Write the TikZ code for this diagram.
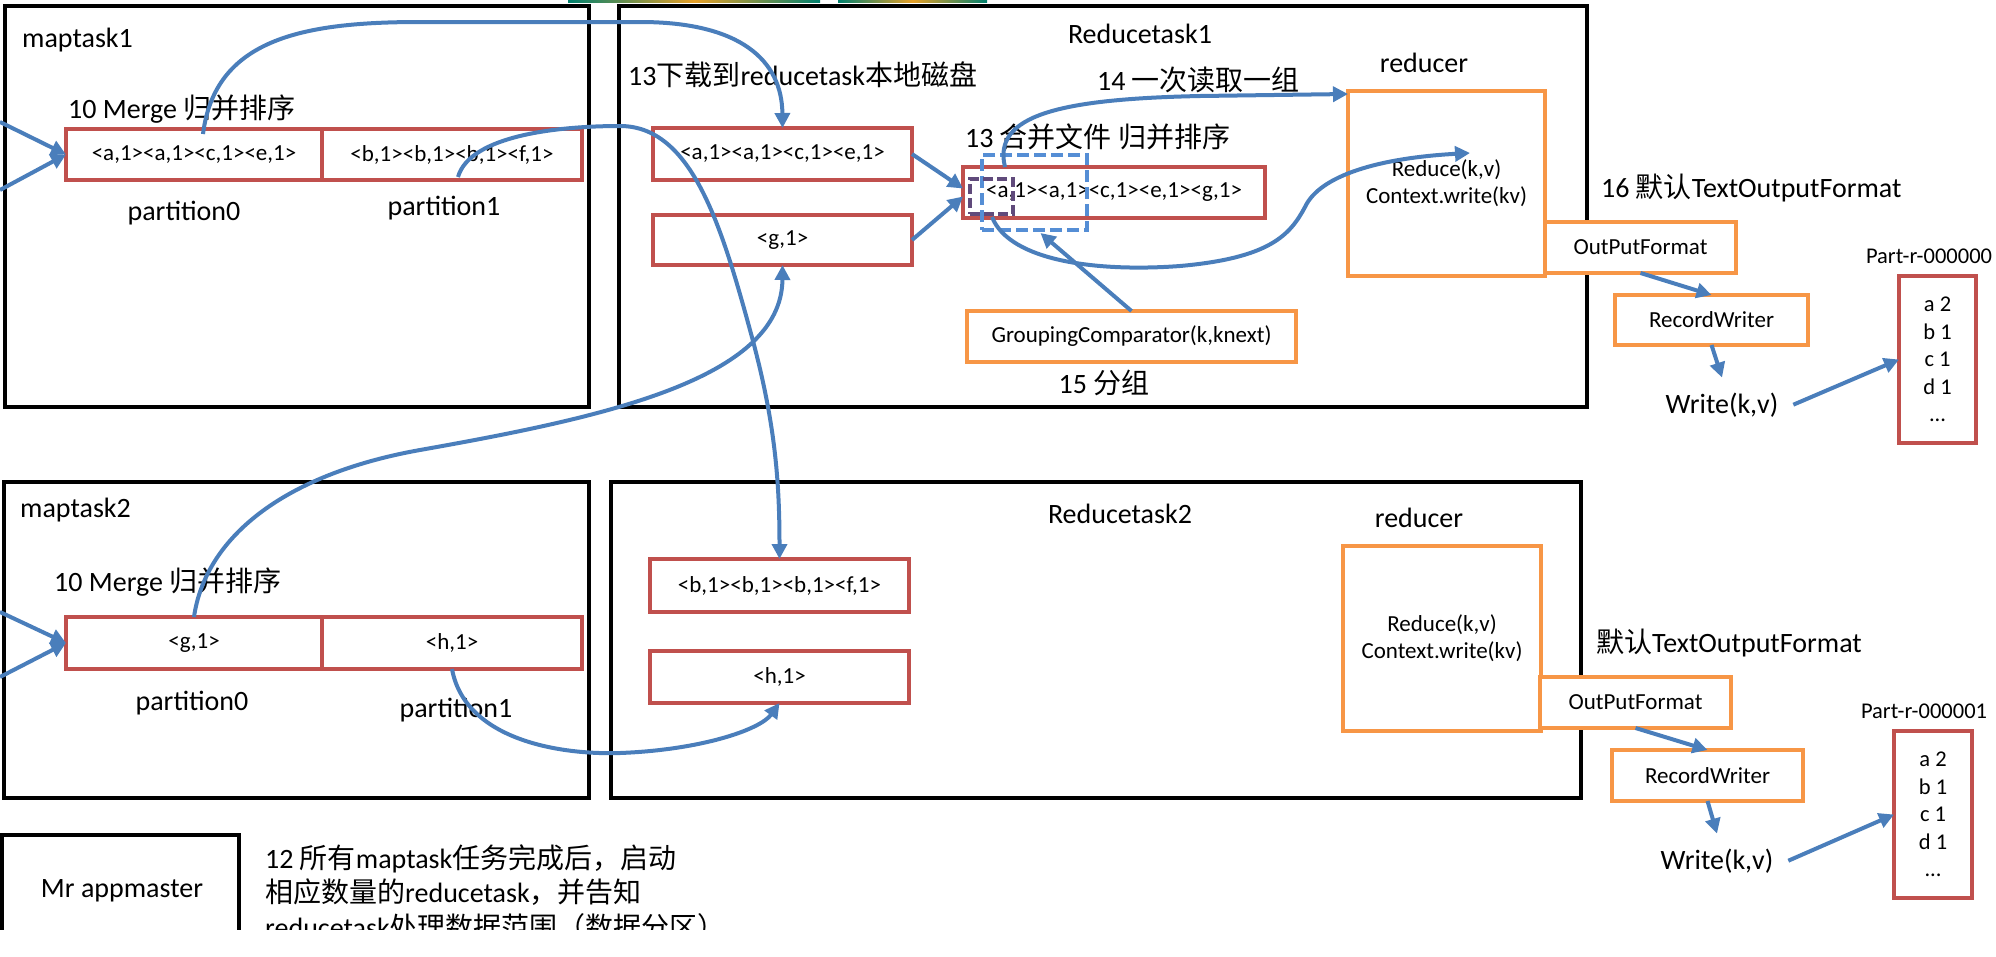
\documentclass[tikz,border=0pt]{standalone}
\usepackage{fontspec}
\setmainfont{Carlito}
\newfontfamily\cjk{Noto Sans CJK SC}
\usetikzlibrary{arrows.meta,calc}
\newcommand{\zh}[1]{{\cjk #1}}
\definecolor{cblue}{RGB}{74,126,187}
\definecolor{cred}{RGB}{192,80,77}
\definecolor{corange}{RGB}{247,150,70}
\definecolor{cdash}{RGB}{85,142,213}
\definecolor{cpurple}{RGB}{96,74,123}
\definecolor{cteal}{RGB}{0,128,110}
\definecolor{cgold}{RGB}{230,160,40}
\begin{document}
\begin{tikzpicture}[x=1pt,y=-1pt,
  taskbox/.style={draw=black, line width=4.5pt, rectangle, inner sep=0pt, outer sep=0pt, anchor=north west},
  redbox/.style={draw=cred, line width=3.5pt, rectangle, inner sep=0pt, outer sep=0pt, anchor=north west, font=\fontsize{23}{27.5}\selectfont, align=center},
  partbox/.style={redbox, font=\fontsize{22.5}{27.5}\selectfont},
  orbox/.style={draw=corange, line width=3.5pt, fill=white, rectangle, inner sep=0pt, outer sep=0pt, anchor=north west, font=\fontsize{23}{27}\selectfont, align=center},
  dbox/.style={rectangle, inner sep=0pt, outer sep=0pt, anchor=north west, dash pattern=on 12pt off 5pt},
  lbl/.style={inner sep=0pt, font=\fontsize{28}{34}\selectfont},
  small/.style={inner sep=0pt, font=\fontsize{22.5}{27}\selectfont},
  flow/.style={draw=cblue, line width=4pt, -{Triangle[length=15pt,width=15pt]}},
]
\useasboundingbox (0,0) rectangle (1996,956);

% ---------- task boxes ----------
\node[taskbox, minimum width=584pt, minimum height=401pt] (m1) at (5,6) {};
\node[taskbox, minimum width=968pt, minimum height=401pt] (r1) at (619,6) {};
\node[taskbox, minimum width=585pt, minimum height=316pt] (m2) at (4,482) {};
\node[taskbox, minimum width=970pt, minimum height=316pt] (r2) at (611,482) {};
\node[taskbox, minimum width=237pt, minimum height=150pt] (am) at (2,835) {};

% ---------- maptask1 ----------
\node[lbl, anchor=base west] (tm1) at (22,47) {maptask1};
\node[lbl, anchor=base west] (mg1) at (68,118) {10 Merge \zh{归并排序}};
\node[redbox, minimum width=256pt, minimum height=51pt] (m1p0) at (66,129) {<a,1><a,1><c,1><e,1>};
\node[redbox, minimum width=260pt, minimum height=51pt] (m1p1) at (322,129) {<b,1><b,1><b,1><f,1>};
\node[lbl, anchor=base] (p10) at (184,220) {partition0};
\node[lbl, anchor=base] (p11) at (444,215) {partition1};

% ---------- maptask2 ----------
\node[lbl, anchor=base west] (tm2) at (20,517) {maptask2};
\node[lbl, anchor=base west] (mg2) at (54,591) {10 Merge \zh{归并排序}};
\node[redbox, minimum width=256pt, minimum height=52pt] (m2p0) at (66,617) {<g,1>};
\node[redbox, minimum width=260pt, minimum height=52pt] (m2p1) at (322,617) {<h,1>};
\node[lbl, anchor=base] (p20) at (192,710) {partition0};
\node[lbl, anchor=base] (p21) at (456,717) {partition1};

% ---------- Reducetask1 ----------
\node[lbl, anchor=base] (tr1) at (1140,43) {Reducetask1};
\node[lbl, anchor=base west] (dl) at (628,85) {13\zh{下载到}reducetask\zh{本地磁盘}};
\node[lbl, anchor=base west] (rd) at (1097,90) {14 \zh{一次读取一组}};
\node[lbl, anchor=base west] (mf) at (965,147) {13 \zh{合并文件} \zh{归并排序}};
\node[redbox, minimum width=259pt, minimum height=52pt] (r1a) at (653,128) {<a,1><a,1><c,1><e,1>};
\node[redbox, minimum width=259pt, minimum height=50pt] (r1g) at (653,215) {<g,1>};
\node[redbox, minimum width=302pt, minimum height=51pt] (r1m) at (963,167) {<a,1><a,1><c,1><e,1><g,1>};
\node[dbox, draw=cdash, line width=4pt, minimum width=105pt, minimum height=75pt] (dblue) at (982,155) {};
\node[dbox, draw=cpurple, line width=3.5pt, minimum width=43pt, minimum height=35pt, dash pattern=on 10pt off 4pt] (dpur) at (970,179) {};
\node[orbox, minimum width=329pt, minimum height=51pt] (gc) at (967,311) {GroupingComparator(k,knext)};
\node[lbl, anchor=base] (fz) at (1104,393) {15 \zh{分组}};
\node[lbl, anchor=base] (rc1) at (1424,72) {reducer};
\node[orbox, minimum width=197pt, minimum height=185pt] (red1) at (1348,91) {Reduce(k,v)\\Context.write(kv)};
\node[lbl, anchor=base west] (tf1) at (1601,197) {16 \zh{默认}TextOutputFormat};
\node[orbox, minimum width=191pt, minimum height=51pt] (of1) at (1545,222) {OutPutFormat};
\node[orbox, minimum width=193pt, minimum height=50pt] (rw1) at (1615,295) {RecordWriter};
\node[lbl, anchor=base, outer sep=15pt] (w1) at (1722,413) {Write(k,v)};
\node[small, anchor=base] (pn0) at (1929,263) {Part-r-000000};
\node[partbox, minimum width=77pt, minimum height=167pt] (part0) at (1899,276) {a 2\\b 1\\c 1\\d 1\\...};

% ---------- Reducetask2 ----------
\node[lbl, anchor=base] (tr2) at (1120,523) {Reducetask2};
\node[redbox, minimum width=259pt, minimum height=53pt] (r2b) at (650,559) {<b,1><b,1><b,1><f,1>};
\node[redbox, minimum width=259pt, minimum height=52pt] (r2h) at (650,651) {<h,1>};
\node[lbl, anchor=base] (rc2) at (1419,527) {reducer};
\node[orbox, minimum width=198pt, minimum height=185pt] (red2) at (1343,546) {Reduce(k,v)\\Context.write(kv)};
\node[lbl, anchor=base west] (tf2) at (1596,652) {\zh{默认}TextOutputFormat};
\node[orbox, minimum width=191pt, minimum height=51pt] (of2) at (1540,677) {OutPutFormat};
\node[orbox, minimum width=191pt, minimum height=51pt] (rw2) at (1612,750) {RecordWriter};
\node[lbl, anchor=base, outer sep=15pt] (w2) at (1717,869) {Write(k,v)};
\node[small, anchor=base] (pn1) at (1924,718) {Part-r-000001};
\node[partbox, minimum width=78pt, minimum height=167pt] (part1) at (1894,731) {a 2\\b 1\\c 1\\d 1\\...};

% ---------- appmaster ----------
\node[lbl, anchor=base] (amt) at (122,897) {Mr appmaster};
\node[lbl, anchor=base west] (n1) at (265,868) {12 \zh{所有}maptask\zh{任务完成后，启动}};
\node[lbl, anchor=base west] (n2) at (265,902) {\zh{相应数量的}reducetask\zh{，并告知}};
\node[lbl, anchor=base west] (n3) at (265,937) {reducetask\zh{处理数据范围（数据分区）}};

% ---------- connectors ----------
\coordinate (in1) at (0,122);
\coordinate (in2) at (0,190);
\coordinate (in3) at (0,612);
\coordinate (in4) at (0,677);
\coordinate (rin) at (1470,153);

\draw[flow] (in1) -- (m1p0.west);
\draw[flow] (in2) -- (m1p0.west);
\draw[flow] (in3) -- (m2p0.west);
\draw[flow] (in4) -- (m2p0.west);

\draw[flow] ($(m1p0.north)+(9,5)$) .. controls (215,40) and (300,22) .. (420,22) -- (640,22) .. controls (740,22) and (782,60) .. (r1a.north);
\draw[flow] ($(m1p1.south)+(6,-3)$) .. controls (470,135) and (560,126) .. (620,126) .. controls (690,126) and (720,220) .. (750,330) .. controls (775,420) and (779.5,480) .. (r2b.north);
\draw[flow] (m2p0.north) .. controls (205,540) and (280,475) .. (420,450) .. controls (600,418) and (782,380) .. (r1g.south);
\draw[flow] (m2p1.south) .. controls (465,740) and (560,755) .. (620,753) .. controls (700,750) and (760,730) .. (r2h.south);

\draw[flow] (r1a.east) -- ($(r1m.west)+(0,-4)$);
\draw[flow] (r1g.east) -- ($(r1m.west)+(0,4)$);
\draw[flow] (gc.north) -- ($(dblue.south)+(6,3)$);
\draw[flow] ($(r1m.north west)+(42,0)$) .. controls (992,115) and (1060,99) .. (1200,96) -- ($(red1.north west)+(0,3)$);
\draw[flow] ($(r1m.south west)+(29,-1)$) .. controls (1010,262) and (1100,272) .. (1180,266) .. controls (1270,258) and (1290,235) .. (1305,207) .. controls (1320,175) and (1380,158) .. (rin);

\draw[flow] (of1.south) -- (rw1.north);
\draw[flow] (rw1.south) -- (w1.north);
\draw[flow] (w1.east) -- (part0.west);
\draw[flow] (of2.south) -- (rw2.north);
\draw[flow] (rw2.south) -- (w2.north);
\draw[flow] (w2.east) -- (part1.west);

% ---------- cropped edges of the original ----------
\fill[white] (-2,930) rectangle (1998,958);
\shade[left color=cteal, right color=cteal, middle color=cgold] (568,0) rectangle (820,2);
\shade[left color=cteal, right color=cteal, middle color=cgold] (838,0) rectangle (987,2);
\end{tikzpicture}
\end{document}
